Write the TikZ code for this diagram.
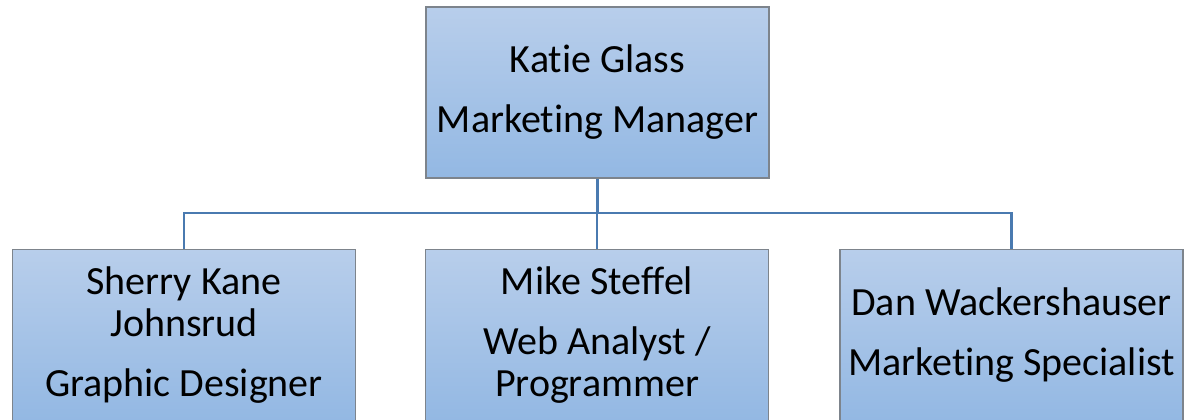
\documentclass[tikz,border=0pt]{standalone}
\usepackage{fontspec}
\setmainfont[RawFeature={-liga;-clig;-dlig;-calt}]{Carlito}
\usepackage{tikz}

\definecolor{boxtop}{RGB}{184,206,235}
\definecolor{boxbot}{RGB}{147,184,227}
\definecolor{boxline}{RGB}{125,132,140}
\definecolor{wire}{RGB}{74,122,176}

\tikzset{
  person/.style={draw=boxline, line width=1.5pt, top color=boxtop, bottom color=boxbot,
    minimum width=343pt, minimum height=171pt, inner sep=0pt, align=center,
    font=\fontsize{40}{42}\selectfont},
  link/.style={draw=wire, line width=2.5pt}
}

\begin{document}
\begin{tikzpicture}[x=1pt, y=-1pt]
                \useasboundingbox (0,0) rectangle (1184,420);

                % Draw the manager
                \node[person] (kg) at (597.5,92.5) {Katie Glass\\[18pt]Marketing Manager};

                % Draw the team
                \node[person] (sk) at (184,335) {Sherry Kane\\Johnsrud\\[18pt]Graphic Designer};
                \node[person] (ms) at (597,335) {Mike Steffel\\[18pt]Web Analyst /\\Programmer};
                \node[person] (dw) at (1011.5,335) {Dan Wackershauser\\[18pt]Marketing Specialist};

                % Draw the connectors
                \coordinate (bus) at (597.5,213);
                \draw[link] (kg.south) -- (bus);
                \draw[link] (bus) -| (sk.north);
                \draw[link] (bus) -| (ms.north);
                \draw[link] (bus) -| (dw.north);
            \end{tikzpicture}
\end{document}
